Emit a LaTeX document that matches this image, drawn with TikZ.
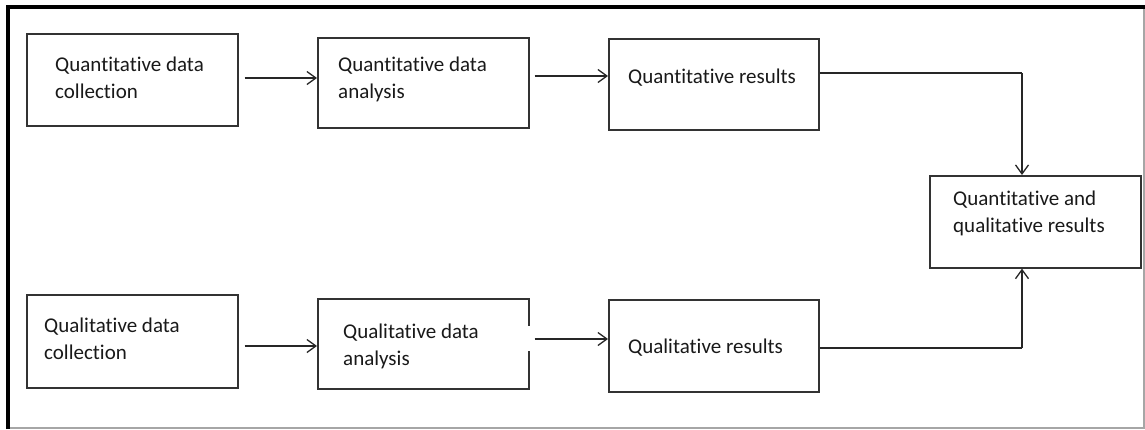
\documentclass[tikz,border=0pt]{standalone}
\usepackage{fontspec}
\setmainfont{Carlito}[Ligatures=NoCommon]
\usetikzlibrary{arrows.meta}
\begin{document}
\begin{tikzpicture}[x=1pt,y=-1pt,
  box/.style={draw=black!80,line width=1.6pt,inner sep=0pt,anchor=north west},
  txt/.style={anchor=base west,align=left,inner sep=0pt,text=black!90,font=\fontsize{21}{26.5}\selectfont},
  arr/.style={draw=black!85,line width=1.5pt,-{Straight Barb[length=9pt,width=13pt,line width=1.3pt]}},
  ln/.style={draw=black!85,line width=1.5pt}]
\useasboundingbox (0,0) rectangle (1145,429);
% outer frame
\draw[black!35,line width=1.2pt] (9,7) -- (1144,7) -- (1144,428) -- (9,428);
\draw[black,line width=4pt] (8,429) -- (8,7) -- (1145,7);
% boxes
\node[box,minimum width=211pt,minimum height=92pt] (b1) at (26,33) {};
\node[box,minimum width=211pt,minimum height=90pt] (b2) at (317,37) {};
\node[box,minimum width=210pt,minimum height=91pt] (b3) at (608,38) {};
\node[box,minimum width=211pt,minimum height=92pt] (b4) at (929,175) {};
\node[box,minimum width=211pt,minimum height=93pt] (b5) at (26,294) {};
\node[box,minimum width=211pt,minimum height=90pt] (b6) at (317,298) {};
\node[box,minimum width=210pt,minimum height=92pt] (b7) at (608,299) {};
% texts (base anchor = baseline of last line)
\node[txt] (t1) at (55,98) {Quantitative data\\collection};
\node[txt] (t2) at (338,98) {Quantitative data\\analysis};
\node[txt] (t3) at (628,83) {Quantitative results};
\node[txt] (t4) at (953,232) {Quantitative and\\qualitative results};
\node[txt] (t5) at (44,359) {Qualitative data\\collection};
\node[txt] (t6) at (343,365) {Qualitative data\\analysis};
\node[txt] (t7) at (628,353) {Qualitative results};
% gap in right side of b6
\fill[white] (526,326) rectangle (531,351);
% connectors
\coordinate (c1) at (1022,73);
\coordinate (c2) at (1022,348);
\draw[arr,shorten <=6pt] (b1.east |- 0,78) -- (b2.west |- 0,78);
\draw[arr,shorten <=5pt] (b2.east |- 0,76) -- (b3.west |- 0,76);
\draw[ln] (b3.east |- c1) -- (c1);
\draw[arr] (c1) -- (c1 |- b4.north);
\draw[arr,shorten <=6pt] (b5.east |- 0,346) -- (b6.west |- 0,346);
\draw[arr,shorten <=5pt] (b6.east |- 0,339) -- (b7.west |- 0,339);
\draw[ln] (b7.east |- c2) -- (c2);
\draw[arr] (c2) -- (c2 |- b4.south);
\end{tikzpicture}
\end{document}
